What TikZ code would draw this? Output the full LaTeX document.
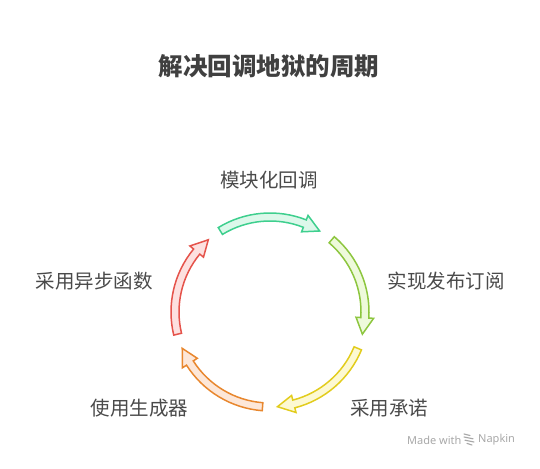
\documentclass[tikz,border=0pt]{standalone}
\usepackage{fontspec}
\setmainfont{Noto Sans}
\newfontfamily\cjk{Noto Sans CJK SC}
\definecolor{gstroke}{HTML}{3ECF8E}\definecolor{gfill}{HTML}{DCF8EA}
\definecolor{ystroke}{HTML}{8DC63F}\definecolor{yfill}{HTML}{EEFADB}
\definecolor{lstroke}{HTML}{E2CC1D}\definecolor{lfill}{HTML}{FDF9D2}
\definecolor{ostroke}{HTML}{E8872E}\definecolor{ofill}{HTML}{FDE7D8}
\definecolor{rstroke}{HTML}{E5534B}\definecolor{rfill}{HTML}{FDE0DF}
\definecolor{titlegray}{HTML}{404040}
\definecolor{labelgray}{HTML}{4A4A4A}
\definecolor{markgray}{HTML}{A8A8A8}
\newcommand{\cyclearrow}[3]{%
  \pgfmathsetmacro\sa{#1+31.5}%
  \pgfmathsetmacro\ta{#1-31.5}%
  \pgfmathsetmacro\ha{#1-31.5+10}%
  \draw[arrowshape, draw=#2, fill=#3]
    (\sa:99pt) arc[start angle=\sa, end angle=\ha, radius=99pt]
    -- (\ha:103.8pt) -- (\ta:95pt) -- (\ha:86.2pt) -- (\ha:91pt)
    arc[start angle=\ha, end angle=\sa, radius=91pt] -- cycle;}
\tikzset{
  arrowshape/.style={line width=1.5pt, line join=miter},
  titletext/.style={font=\cjk\fontsize{24.5pt}{28pt}\selectfont\bfseries, text=titlegray, inner sep=0pt},
  lbl/.style={font=\cjk\fontsize{19.5pt}{23pt}\selectfont, text=labelgray, inner sep=0pt},
  watermark/.style={font=\fontsize{11pt}{13pt}\selectfont, text=markgray, inner sep=0pt}
}
\begin{document}
\begin{tikzpicture}[x=1pt,y=1pt]
\useasboundingbox (0,0) rectangle (540,468);
\coordinate (C) at (270,156);
\node[titletext] (title) at (269,402) {解决回调地狱的周期};
\begin{scope}[shift={(C)}]
  \cyclearrow{90}{gstroke}{gfill}
  \cyclearrow{18}{ystroke}{yfill}
  \cyclearrow{-54}{lstroke}{lfill}
  \cyclearrow{-126}{ostroke}{ofill}
  \cyclearrow{-198}{rstroke}{rfill}
\end{scope}
\node[lbl] (l1) at (269,288) {模块化回调};
\node[lbl] (l2) at (446,187) {实现发布订阅};
\node[lbl] (l3) at (389,60) {采用承诺};
\node[lbl] (l4) at (139.5,60) {使用生成器};
\node[lbl] (l5) at (94,187) {采用异步函数};
\node[watermark, anchor=west] (m1) at (407,28) {Made with};
\node[watermark, anchor=west] (m2) at (478,28) {Napkin};
\begin{scope}[markgray, line width=1.1pt, line cap=round]
  \draw (464,34) -- (470,32.5);
  \draw (464,31) -- (473,29.2);
  \draw (465,27.8) -- (474,26);
  \draw (467,24.6) -- (472,23);
\end{scope}
\end{tikzpicture}
\end{document}
